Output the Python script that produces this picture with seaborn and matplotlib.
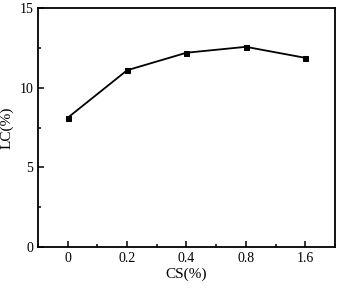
import matplotlib
matplotlib.use('Agg')
import matplotlib.pyplot as plt
import seaborn as sns
import numpy as np
import pandas as pd
from matplotlib.ticker import MultipleLocator

# data
cs_labels = ['0', '0.2', '0.4', '0.8', '1.6']
lc_values = [8.12, 11.1, 12.2, 12.57, 11.88]

sns.set_style('ticks')
plt.rcParams['font.family'] = ['Liberation Serif', 'DejaVu Serif']
plt.rcParams['text.color'] = 'black'
plt.rcParams['axes.labelcolor'] = 'black'
plt.rcParams['xtick.color'] = 'black'
plt.rcParams['ytick.color'] = 'black'
plt.rcParams['axes.edgecolor'] = 'black'

df = pd.DataFrame({'pos': np.arange(len(cs_labels)), 'LC': lc_values})

fig = plt.figure(figsize=(3.4, 2.9), dpi=100)
ax = fig.add_axes([0.112, 0.148, 0.873, 0.824])

sns.lineplot(data=df, x='pos', y='LC', ax=ax, color='black', linewidth=1.3,
             marker='s', markersize=3.6, markeredgecolor='black')

ax.set_xlim(-0.5, 4.5)
ax.set_ylim(0, 15)
ax.set_xticks(df['pos'])
ax.set_xticklabels(cs_labels)
ax.xaxis.set_minor_locator(MultipleLocator(0.5))
ax.yaxis.set_major_locator(MultipleLocator(5))
ax.yaxis.set_minor_locator(MultipleLocator(2.5))
ax.tick_params(which='both', direction='in', labelsize=10, width=1.1)
ax.tick_params(which='major', length=4)
ax.tick_params(which='minor', length=2)
for s in ax.spines.values():
    s.set_linewidth(1.3)
ax.set_xlabel('CS(%)', fontsize=11, labelpad=2)
ax.set_ylabel('LC(%)', fontsize=11)

fig.savefig('out.png', dpi=100)
